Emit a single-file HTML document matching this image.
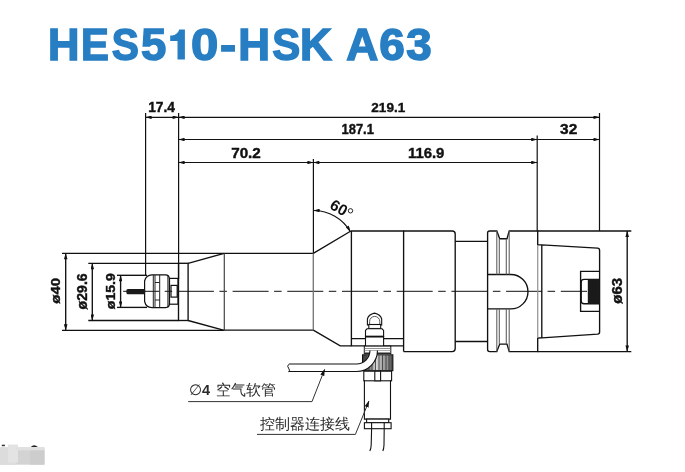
<!DOCTYPE html>
<html><head><meta charset="utf-8">
<style>
html,body{margin:0;padding:0;background:#fff;width:685px;height:472px;overflow:hidden;}
svg{position:absolute;left:0;top:0;will-change:transform;}
text{font-family:"Liberation Sans",sans-serif;}
</style></head><body>
<svg width="685" height="472" viewBox="0 0 685 472">
<defs>
<marker id="ar" viewBox="0 0 10 6" refX="10" refY="3" markerWidth="7" markerHeight="3.6" orient="auto-start-reverse" markerUnits="userSpaceOnUse">
<path d="M0,0 L10,3 L0,6 z" fill="#111"/>
</marker>
</defs>
<!-- Title -->
<g font-size="44.5" font-weight="bold" fill="#277ec3" stroke="#277ec3" stroke-width="1.5">
<text transform="translate(47.95,59.5) scale(0.978,0.994)">H</text>
<text transform="translate(80.95,59.5) scale(0.939,0.994)">E</text>
<text transform="translate(111.75,59.5) scale(0.914,0.994)">S</text>
<text transform="translate(140.89,59.5) scale(1.021,0.994)">5</text>
<path d="M170.2,35.6 L172.5,35.4 Q177.5,34.6 179.3,29.4 L184.9,29.4 L184.9,59.6 L177.5,59.6 L177.5,40.9 L170.2,40.9 Z" stroke="none"/>
<text transform="translate(191.08,59.5) scale(1.103,0.994)">0</text>
<text transform="translate(220.10,59.5) scale(1.088,0.994)">-</text>
<text transform="translate(238.23,59.5) scale(0.989,0.994)">H</text>
<text transform="translate(272.23,59.5) scale(0.943,0.994)">S</text>
<text transform="translate(300.12,59.5) scale(0.993,0.994)">K</text>
<text transform="translate(346.30,59.5) scale(0.997,0.994)">A</text>
<text transform="translate(379.37,59.5) scale(1.031,0.994)">6</text>
<text transform="translate(406.29,59.5) scale(1.030,0.994)">3</text>
</g>

<g stroke="#111" stroke-width="1.2" fill="none">
<!-- extension lines top -->
<line x1="145.6" y1="113" x2="145.6" y2="275"/>
<line x1="178.6" y1="113" x2="178.6" y2="279"/>
<line x1="599.5" y1="113" x2="599.5" y2="231"/>
<line x1="537.2" y1="135.5" x2="537.2" y2="231"/>
<line x1="313.4" y1="159" x2="313.4" y2="253.3"/>
<!-- dim lines -->
<line x1="145.6" y1="117.3" x2="178.6" y2="117.3" marker-start="url(#ar)" marker-end="url(#ar)"/>
<line x1="178.6" y1="117.3" x2="599.5" y2="117.3" marker-start="url(#ar)" marker-end="url(#ar)"/>
<line x1="178.6" y1="139.5" x2="537.2" y2="139.5" marker-start="url(#ar)" marker-end="url(#ar)"/>
<line x1="537.2" y1="139.5" x2="599.5" y2="139.5" marker-end="url(#ar)"/>
<line x1="178.6" y1="162.5" x2="313.4" y2="162.5" marker-start="url(#ar)" marker-end="url(#ar)"/>
<line x1="313.4" y1="162.5" x2="537.2" y2="162.5" marker-start="url(#ar)" marker-end="url(#ar)"/>
</g>
<!--HL-->
<g font-weight="bold" fill="#111" stroke="#111" stroke-width="0.4" text-anchor="middle">
<text x="161.60" y="112.00" font-size="13.84" textLength="26.80" lengthAdjust="spacingAndGlyphs">17.4</text>
<text x="388.27" y="112.00" font-size="13.42" textLength="33.82" lengthAdjust="spacingAndGlyphs">219.1</text>
<text x="357.73" y="134.36" font-size="13.84" textLength="32.34" lengthAdjust="spacingAndGlyphs">187.1</text>
<text x="568.73" y="134.28" font-size="15.13" textLength="17.26" lengthAdjust="spacingAndGlyphs">32</text>
<text x="246.00" y="157.64" font-size="13.84" textLength="29.60" lengthAdjust="spacingAndGlyphs">70.2</text>
<text x="426.18" y="157.82" font-size="15.17" textLength="36.52" lengthAdjust="spacingAndGlyphs">116.9</text>
</g>
<!--/HL-->


<!-- centerline -->
<line x1="123.2" y1="291.3" x2="587" y2="291.3" stroke="#111" stroke-width="1" stroke-dasharray="36 5.5 7.5 5.7" stroke-dashoffset="0"/>
<g stroke="#111" stroke-width="1.35" fill="none" stroke-linejoin="miter">
<!-- dia dims left -->
<line x1="62" y1="253.3" x2="224.3" y2="253.3"/>
<line x1="62" y1="330.3" x2="224.3" y2="330.3"/>
<line x1="65.7" y1="253.3" x2="65.7" y2="330.3" marker-start="url(#ar)" marker-end="url(#ar)"/>
<line x1="88.3" y1="263.3" x2="178.5" y2="263.3"/>
<line x1="88.3" y1="320.5" x2="178.5" y2="320.5"/>
<line x1="92.3" y1="263.3" x2="92.3" y2="320.5" marker-start="url(#ar)" marker-end="url(#ar)"/>
<line x1="117" y1="275.3" x2="147" y2="275.3"/>
<line x1="117" y1="307.4" x2="147" y2="307.4"/>
<line x1="120.6" y1="275.3" x2="120.6" y2="307.4" marker-start="url(#ar)" marker-end="url(#ar)"/>
<!-- spindle nose -->
<rect x="178.5" y="263.3" width="9.6" height="57.2"/>
<path d="M188.1,263.3 L224.3,253.3 M224.3,330.3 L188.1,320.5"/>
<line x1="224.3" y1="253.3" x2="224.3" y2="330.3" stroke="#444" stroke-width="1.2"/>
<!-- cylinder -->
<path d="M224.3,253.3 L313.3,253.3 M313.3,330.1 L224.3,330.1"/>
<line x1="313.3" y1="253.3" x2="313.3" y2="330.1" stroke="#777"/>
<!-- cone 60 -->
<path d="M313.3,253.3 L350.9,231 M313.3,330.1 L340.2,345.9 L351.4,345.9"/>
<!-- section1 -->
<path d="M350.9,231 L403.6,231 L403.6,351.6 M351.4,231 L351.4,345.9 L403.6,345.9 M351.4,338.6 L403.6,338.6"/>
<!-- section2 -->
<path d="M403.6,231 L452.2,231 Q455.2,231 455.2,234 L455.2,348.6 Q455.2,351.6 452.2,351.6 L403.6,351.6"/>
<!-- neck -->
<path d="M455.2,241.3 L487.6,241.3 M455.2,341.5 L487.6,341.5"/>
<!-- flanges -->
<path d="M487.6,341.5 L487.6,233 Q487.6,231 489.6,231 L496.8,231 L499.7,238.7 L507,238.7 L509.2,231 L537.7,231 L537.7,244.9 M537.7,338 L537.7,351.6 L509.2,351.6 L507,344.1 L499.7,344.1 L496.8,351.6 L489.6,351.6 Q487.6,351.6 487.6,349.6 L487.6,341.5"/>
<!-- key slot -->
<path d="M487.6,274.5 L510.8,274.5 A17.2,17.2 0 0 1 510.8,308.9 L487.6,308.9"/>
<!-- taper -->
<path d="M537.7,244.9 L541.8,244.9 L597.6,248.2 Q599.6,248.4 599.6,250.4 L599.6,332 Q599.6,334 597.6,334.2 L541.8,337.8 L537.7,338 M541.8,244.9 L541.8,337.8"/>
<!-- drive slot -->
<path d="M599.6,271.4 L580.6,271.4 L580.6,311.3 L599.6,311.3"/>
<path d="M599.6,279.3 L584,279.3 Q581.2,279.3 581.2,282 L581.2,301 Q581.2,303.7 584,303.7 L599.6,303.7"/>
<!-- ø63 dims -->
<line x1="537.7" y1="231" x2="631.3" y2="231"/>
<line x1="537.7" y1="351.6" x2="631.3" y2="351.6"/>
<line x1="627.2" y1="231" x2="627.2" y2="351.6" marker-start="url(#ar)" marker-end="url(#ar)"/>
</g>
<g stroke="#606060" stroke-width="1.1" fill="none">
<line x1="499.3" y1="238.7" x2="499.3" y2="274.5"/>
<line x1="506.3" y1="238.7" x2="506.3" y2="274.5"/>
<line x1="496.8" y1="231" x2="496.8" y2="274.5"/>
<line x1="509.2" y1="231" x2="509.2" y2="274.5"/>
<line x1="499.3" y1="308.9" x2="499.3" y2="344.1"/>
<line x1="506.3" y1="308.9" x2="506.3" y2="344.1"/>
<line x1="496.8" y1="308.9" x2="496.8" y2="351.6"/>
<line x1="509.2" y1="308.9" x2="509.2" y2="351.6"/>
<line x1="537.7" y1="244.9" x2="537.7" y2="338" stroke="#999" stroke-width="1.3"/>
</g>
<rect x="587.8" y="279.3" width="12" height="24.4" fill="#1a1a1a"/>
<!-- collet -->
<g stroke="#111" stroke-width="1.2" fill="none">
<path d="M144.6,281 Q146,275 152,274.9 L165.5,274.9 Q169.4,275 169.4,279 L169.4,303.6 Q169.4,307.6 165.5,307.6 L152,307.6 Q146,307.5 144.6,301.5 Z"/>
<rect x="169.5" y="278.4" width="8.5" height="25.8"/>
<rect x="171" y="285.4" width="6.2" height="11.7"/>
</g>
<g stroke="#222" stroke-width="1" fill="none">
<line x1="153.3" y1="275" x2="153.3" y2="307.5"/>
<line x1="155" y1="275" x2="155" y2="307.5"/>
<line x1="159.7" y1="275" x2="159.7" y2="307.5"/>
<line x1="167.9" y1="275" x2="167.9" y2="307.5"/>
<line x1="155" y1="282.5" x2="159.7" y2="282.5"/>
<line x1="155" y1="300" x2="159.7" y2="300"/>
</g>
<rect x="126.4" y="288.9" width="18.7" height="5.4" rx="1.5" fill="#1a1a1a"/>

<!-- rotated dia labels -->
<!--RL-->
<g font-weight="bold" fill="#111" stroke="#111" stroke-width="0.4" text-anchor="middle">
<text transform="translate(60.46,290.73) rotate(-90)" font-size="13.41" textLength="25.82" lengthAdjust="spacingAndGlyphs">ø40</text>
<text transform="translate(87.24,291.38) rotate(-90)" font-size="13.92" textLength="36.00" lengthAdjust="spacingAndGlyphs">ø29.6</text>
<text transform="translate(114.96,291.19) rotate(-90)" font-size="13.37" textLength="35.90" lengthAdjust="spacingAndGlyphs">ø15.9</text>
<text transform="translate(621.84,290.87) rotate(-90)" font-size="14.00" textLength="25.54" lengthAdjust="spacingAndGlyphs">ø63</text>
</g>
<!--/RL-->

<!-- 60 deg -->
<path d="M313.6,210.5 A42.5,42.5 0 0 1 350.4,231.75" stroke="#111" stroke-width="1.1" fill="none" marker-start="url(#ar)" marker-end="url(#ar)"/>
<text transform="translate(336.3,212.3) rotate(30)" font-size="15.5" font-weight="bold" fill="#111" text-anchor="middle">60</text>
<circle cx="350.5" cy="210.8" r="2.2" stroke="#111" stroke-width="0.9" fill="none"/>

<!-- sensor fitting top -->
<g stroke="#111" stroke-width="1.1" fill="#fff">
<path d="M367.4,325 L367.4,319 Q368.5,314.5 374.5,313.1 Q380.5,314.5 381.7,319 L381.7,325 Z"/>
<path d="M369.6,324 L369.6,321.5 A5.1,5.1 0 0 1 379.8,321.5 L379.8,324" stroke="#444" stroke-width="0.9"/>
<rect x="368.8" y="324.5" width="11.9" height="4"/>
<path d="M365.5,336.5 L365.5,330.5 L367,328.8 L382.1,328.8 L383.6,330.5 L383.6,336.5 Z"/>
<rect x="365.5" y="336.5" width="18.1" height="9.6"/>
</g>
<line x1="365.5" y1="336.6" x2="383.6" y2="336.6" stroke="#111" stroke-width="1.8"/>
<!-- threads -->
<g>
<rect x="364.3" y="346.1" width="26.5" height="7.5" fill="#fff" stroke="#111" stroke-width="1"/>
<line x1="364.5" y1="348.5" x2="390.5" y2="348.5" stroke="#777" stroke-width="0.8"/>
<line x1="364.5" y1="350.5" x2="390.5" y2="350.5" stroke="#999" stroke-width="0.8"/>
<line x1="364.5" y1="352.5" x2="390.5" y2="352.5" stroke="#777" stroke-width="0.8"/>
</g>
<!-- knurled nut -->
<defs>
<linearGradient id="kn" x1="0" x2="1" y1="0" y2="0">
<stop offset="0" stop-color="#333"/>
<stop offset="0.2" stop-color="#707070"/>
<stop offset="0.45" stop-color="#d8d8d8"/>
<stop offset="0.6" stop-color="#b0b0b0"/>
<stop offset="0.85" stop-color="#8a8a8a"/>
<stop offset="1" stop-color="#3a3a3a"/>
</linearGradient>
</defs>
<rect x="362.5" y="354.8" width="30.4" height="15.9" fill="url(#kn)" stroke="#111" stroke-width="1"/>
<g stroke="#333" stroke-width="0.8">
<line x1="366" y1="355" x2="366" y2="370.5"/>
<line x1="369" y1="355" x2="369" y2="370.5"/>
<line x1="372" y1="355" x2="372" y2="370.5"/>
<line x1="375.5" y1="355" x2="375.5" y2="370.5"/>
<line x1="379" y1="355" x2="379" y2="370.5"/>
<line x1="382.5" y1="355" x2="382.5" y2="370.5"/>
<line x1="386" y1="355" x2="386" y2="370.5"/>
<line x1="389" y1="355" x2="389" y2="370.5"/>
</g>
<!-- hex nut -->
<g stroke="#111" stroke-width="1.1" fill="#fff">
<rect x="363.8" y="371.2" width="27.8" height="9.6"/>
<rect x="374.8" y="371.2" width="5.8" height="9.6"/>
<!-- cable body -->
<path d="M364.4,380.3 L364.4,419.1 L390.5,419.1 L390.5,380.3" fill="none"/>
<rect x="366.6" y="419.1" width="22.1" height="3.6"/>
<rect x="364.4" y="422.7" width="26.7" height="6"/>
<line x1="371.6" y1="422.7" x2="371.6" y2="428.7"/>
<line x1="384.2" y1="422.7" x2="384.2" y2="428.7"/>
</g>
<path d="M371.6,428.7 L371.2,445 Q371,449 369.8,451 M384.2,428.7 L384,445 Q383.8,449 382.8,451" stroke="#111" stroke-width="1.1" fill="none"/>
<!-- tube -->
<path d="M289,367.8 L356.5,367.8 A17.2,17.2 0 0 0 373.7,350.6" stroke="#111" stroke-width="8.6" fill="none"/>
<path d="M289,367.8 L356.5,367.8 A17.2,17.2 0 0 0 373.7,350.6" stroke="#fff" stroke-width="6.4" fill="none"/>
<path d="M288.6,364.4 Q286.8,366.3 288.6,368.2 Q290.4,370.2 288.6,372.1" stroke="#111" stroke-width="1" fill="none"/>
<!-- leaders -->
<g stroke="#333" stroke-width="1" fill="none">
<path d="M188.2,401.6 L312,401.6 L324.6,369.5" marker-end="url(#ar2)"/>
<path d="M257,434.4 L355.4,434.4 L368.9,401.1" marker-end="url(#ar2)"/>
</g>
<defs>
<marker id="ar2" viewBox="0 0 10 6" refX="9" refY="3" markerWidth="7" markerHeight="4.5" orient="auto" markerUnits="userSpaceOnUse">
<path d="M0,0 L10,3 L0,6 z" fill="#111"/>
</marker>
</defs>
<!-- labels -->
<g fill="#2a2a2a">
<text x="189" y="395.4" font-size="14.5" font-weight="normal">∅<tspan font-weight="bold">4</tspan></text>
<text x="216" y="394.7" font-size="15">空气软管</text>
<text x="260" y="428.8" font-size="15">控制器连接线</text>
</g>
<!-- gray block bottom-left -->
<rect x="0" y="447.4" width="44.5" height="17.3" fill="#d3d3d3"/>
<rect x="0" y="447.4" width="16" height="17.3" fill="#dcdcdc"/>
<rect x="8" y="444.5" width="10" height="18" fill="#e3e3e3"/>
<rect x="16" y="447.4" width="28.5" height="3" fill="#e0e0e0"/>
<rect x="30" y="450.4" width="14.5" height="14.3" fill="#cdcdcd"/>
<path d="M30.7,447 Q34.2,443.6 37.8,447 Z" fill="#222"/>
<rect x="1.8" y="444.7" width="3.1" height="1.5" fill="#333"/>
</svg>
</body></html>
